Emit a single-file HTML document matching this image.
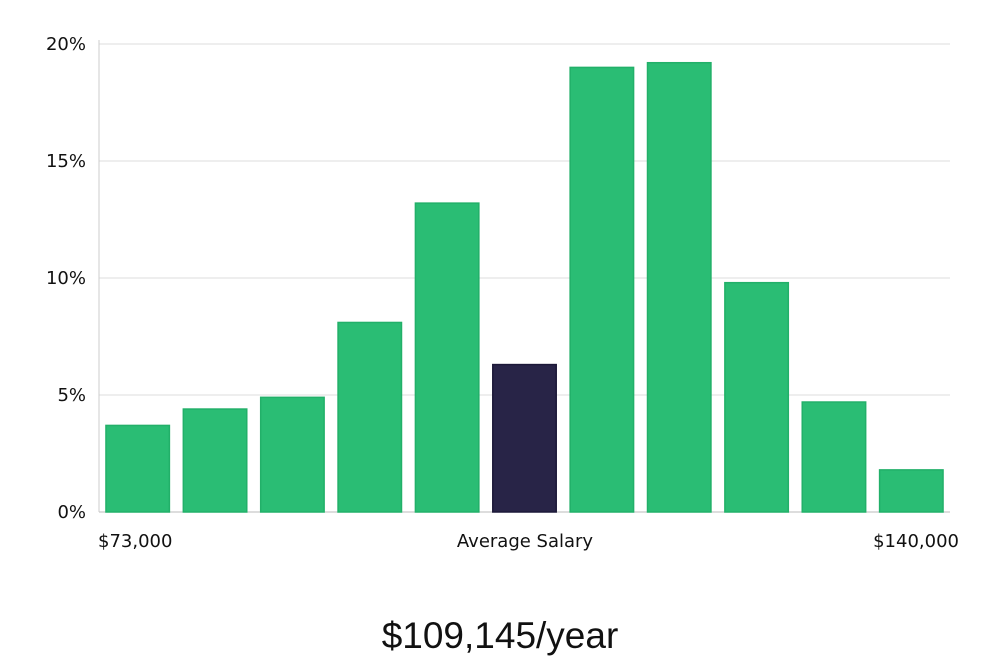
<!DOCTYPE html>
<html><head><meta charset="utf-8"><style>
body{margin:0;background:#fff;width:1000px;height:660px;overflow:hidden;font-family:"DejaVu Sans","Liberation Sans",sans-serif}
svg{display:block}
</style></head><body>
<svg id="chart" width="1000" height="660" xmlns="http://www.w3.org/2000/svg">
<g id="grid"></g>
<g id="bars"></g>
<g id="yticks"></g>
<text x="98" y="547" font-size="18" fill="#111">$73,000</text>
<text x="525" y="547" font-size="18" fill="#111" text-anchor="middle">Average Salary</text>
<text x="959" y="547" font-size="18" fill="#111" text-anchor="end">$140,000</text>
<text x="500" y="648" font-size="37" fill="#111" text-anchor="middle" font-family="Liberation Sans, sans-serif" font-weight="300">$109,145/year</text>
</svg>
<script>
const values=[3.7,4.4,4.9,8.1,13.2,6.3,19.0,19.2,9.8,4.7,1.8];
const highlight=[false,false,false,false,false,true,false,false,false,false,false];
const yTicks=[0,5,10,15,20];
const yTickLabels=["0%","5%","10%","15%","20%"];
const NS="http://www.w3.org/2000/svg";
const x0=99,x1=950,yBase=512,yTop=44,yMax=20;
const y=v=>yBase-(v/yMax)*(yBase-yTop);
const pitch=(x1-x0)/values.length;
const bw=pitch*0.82;
const grid=document.getElementById('grid'),yt=document.getElementById('yticks'),bars=document.getElementById('bars');
yTicks.forEach((t,i)=>{
 const l=document.createElementNS(NS,'line');
 
 
 l.setAttribute('x1',x0);l.setAttribute('x2',x1);l.setAttribute('y1',y(t));l.setAttribute('y2',y(t));
 l.setAttribute('stroke',t===0?'#bbb':'#dcdcdc');l.setAttribute('stroke-width','1');
 grid.appendChild(l);
 const tx=document.createElementNS(NS,'text');
 
 
 tx.setAttribute('x',86);tx.setAttribute('y',y(t)+6);tx.setAttribute('text-anchor','end');
 tx.setAttribute('font-size','18');tx.setAttribute('fill','#111');tx.textContent=yTickLabels[i];
 yt.appendChild(tx);
});
const ax=document.createElementNS(NS,'line');


ax.setAttribute('x1',x0);ax.setAttribute('x2',x0);ax.setAttribute('y1',yTop-4);ax.setAttribute('y2',yBase);ax.setAttribute('stroke','#ccc');
grid.appendChild(ax);
values.forEach((v,i)=>{
 const r=document.createElementNS(NS,'rect');
 
 
 const bx=x0+pitch*i+(pitch-bw)/2;
 r.setAttribute('x',bx);r.setAttribute('y',y(v));r.setAttribute('width',bw);r.setAttribute('height',yBase-y(v));
 r.setAttribute('fill',highlight[i]?'#282447':'#2abd74');
 r.setAttribute('stroke',highlight[i]?'#1c1838':'#22b069');r.setAttribute('stroke-width','1.5');
 bars.appendChild(r);
});
</script>
</body></html>
